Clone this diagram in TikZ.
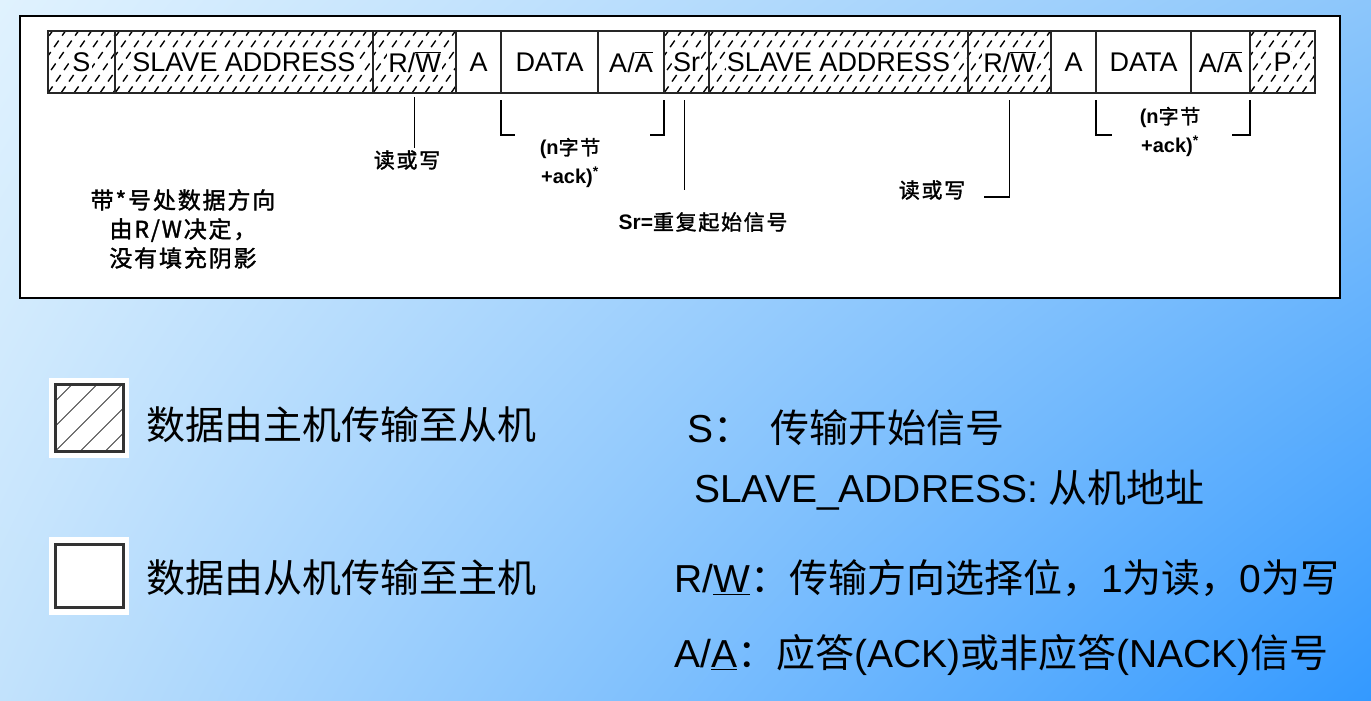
\documentclass[tikz,border=0pt]{standalone}
\usepackage{fontspec}
\usetikzlibrary{shadings}
\setmainfont{Liberation Sans}
\newfontfamily\cjk{Noto Sans CJK SC}
\newfontfamily\cjkb[FakeBold=1.5,LetterSpace=8]{Noto Sans CJK SC}
\definecolor{bgTL}{HTML}{E0F2FE}
\definecolor{bgTR}{HTML}{8CC6FB}
\definecolor{bgBL}{HTML}{C2E2FC}
\definecolor{bgBR}{HTML}{3399FF}
\setlength{\fboxsep}{1pt}
\newcommand{\wb}[1]{\colorbox{white}{#1}}
\newcommand{\ovl}[1]{$\overline{\mbox{#1}}$}
\begin{document}
\begin{tikzpicture}[x=1pt,y=-1pt,
  cell/.style={draw=black!85, line width=1.1pt, minimum height=62pt, inner sep=0pt, outer sep=0pt, anchor=west, font=\fontsize{27}{29}\selectfont},
  hatch/.style={path picture={\foreach \i in {-6,...,24}{\draw[line width=1.4pt, black, dash pattern=on 8pt off 6pt] ([xshift=\i*13pt]path picture bounding box.south west) -- ++(55:100pt);}}},
  lhatch/.style={path picture={\foreach \i in {-3,...,3}{\draw[line width=1pt, black!75] ([xshift=\i*25pt]path picture bounding box.south west) -- ++(45:120pt);}}},
  conn/.style={line width=1.5pt, black},
  lab/.style={font=\cjkb\fontsize{21}{24}\selectfont, inner sep=2pt},
  labl/.style={font=\bfseries\fontsize{20}{29}\selectfont, align=center, inner sep=2pt},
  legtxt/.style={anchor=west, inner sep=0pt, font=\fontsize{39}{42}\selectfont}
]
\useasboundingbox (0,0) rectangle (1371,701);
\shade[upper left=bgTL, upper right=bgTR, lower left=bgBL, lower right=bgBR] (0,0) rectangle (1371,701);
\node[draw=black, line width=2pt, fill=white, minimum width=1320pt, minimum height=282pt, anchor=north west, inner sep=0pt] (frame) at (19,15) {};

% frame cells
\node[cell, hatch, minimum width=67pt] (s1) at (48,62) {\wb{S}};
\node[cell, hatch, minimum width=258pt] (sa1) at (s1.east) {\wb{SLAVE ADDRESS}};
\node[cell, hatch, minimum width=83pt] (rw1) at (sa1.east) {\wb{R/\ovl{W}}};
\node[cell, minimum width=45pt] (a1) at (rw1.east) {A};
\node[cell, minimum width=97pt] (d1) at (a1.east) {DATA};
\node[cell, minimum width=66pt] (aa1) at (d1.east) {A/\ovl{A}};
\node[cell, hatch, minimum width=45pt] (sr) at (aa1.east) {\wb{Sr}};
\node[cell, hatch, minimum width=259pt] (sa2) at (sr.east) {\wb{SLAVE ADDRESS}};
\node[cell, hatch, minimum width=83pt] (rw2) at (sa2.east) {\wb{R/\ovl{W}}};
\node[cell, minimum width=45pt] (a2) at (rw2.east) {A};
\node[cell, minimum width=95pt] (d2) at (a2.east) {DATA};
\node[cell, minimum width=59pt] (aa2) at (d2.east) {A/\ovl{A}};
\node[cell, hatch, minimum width=65pt] (p1) at (aa2.east) {\wb{P}};

% annotations
\node[lab] (rwt1) at (407,160) {读或写};
\draw[conn] ([yshift=-4pt]rw1.south) -- (rw1.south |- rwt1.north);

\node[labl] (nb1) at (570,163) {(n{\cjkb\mdseries 字节}\\+ack)\textsuperscript{*}};
\draw[conn] ([yshift=-7pt]d1.south west) -- ++(0,35) -- ++(14,0);
\draw[conn] ([yshift=-7pt]aa1.south east) -- ++(0,35) -- ++(-14,0);

\node[inner sep=2pt, font=\fontsize{21}{24}\selectfont] (srt) at (703,222) {{\bfseries Sr=}{\cjkb 重复起始信号}};
\draw[conn] ([yshift=-7pt,xshift=-2pt]sr.south) -- ++(0,90);

\node[lab] (rwt2) at (932,190) {读或写};
\coordinate (rwe2) at (984,197);
\draw[conn] ([yshift=-7pt]rw2.south) |- (rwe2);

\node[labl] (nb2) at (1170,132) {(n{\cjkb\mdseries 字节}\\+ack)\textsuperscript{*}};
\draw[conn] ([yshift=-7pt]d2.south west) -- ++(0,35) -- ++(16,0);
\draw[conn] ([yshift=-7pt]aa2.south east) -- ++(0,35) -- ++(-18,0);

\node[align=center, inner sep=2pt, font=\cjkb\fontsize{23}{29}\selectfont] (note) at (183,229) {带*号处数据方向\\由R/W决定，\\没有填充阴影};

% legend
\node[fill=white, minimum size=80pt, inner sep=0pt] (lg1bg) at (89,418) {};
\node[draw=black!80, line width=3pt, minimum width=68pt, minimum height=67pt, inner sep=0pt, lhatch] (lg1) at (lg1bg.center) {};
\node[legtxt, font=\cjk\fontsize{39}{42}\selectfont] (lt1) at (146,425) {数据由主机传输至从机};

\node[fill=white, minimum width=80pt, minimum height=78pt, inner sep=0pt] (lg2bg) at (89,576) {};
\node[draw=black!80, line width=3pt, minimum width=68pt, minimum height=63pt, inner sep=0pt] (lg2) at (lg2bg.center) {};
\node[legtxt, font=\cjk\fontsize{39}{42}\selectfont] (lt2) at (146,578) {数据由从机传输至主机};

\node[legtxt] (ds) at (687,428) {S{\cjk ：}\hspace{18pt}{\cjk 传输开始信号}};
\node[legtxt] (dsa) at (694,490) {SLAVE\_ADDRESS: {\cjk 从机地址}};
\node[legtxt] (drw) at (674,578) {R/\underline{W}{\cjk ：传输方向选择位，}1{\cjk 为读，}0{\cjk 为写}};
\node[legtxt] (daa) at (674,655) {A/\underline{A}{\cjk ：应答}(ACK){\cjk 或非应答}(NACK){\cjk 信号}};
\end{tikzpicture}
\end{document}
